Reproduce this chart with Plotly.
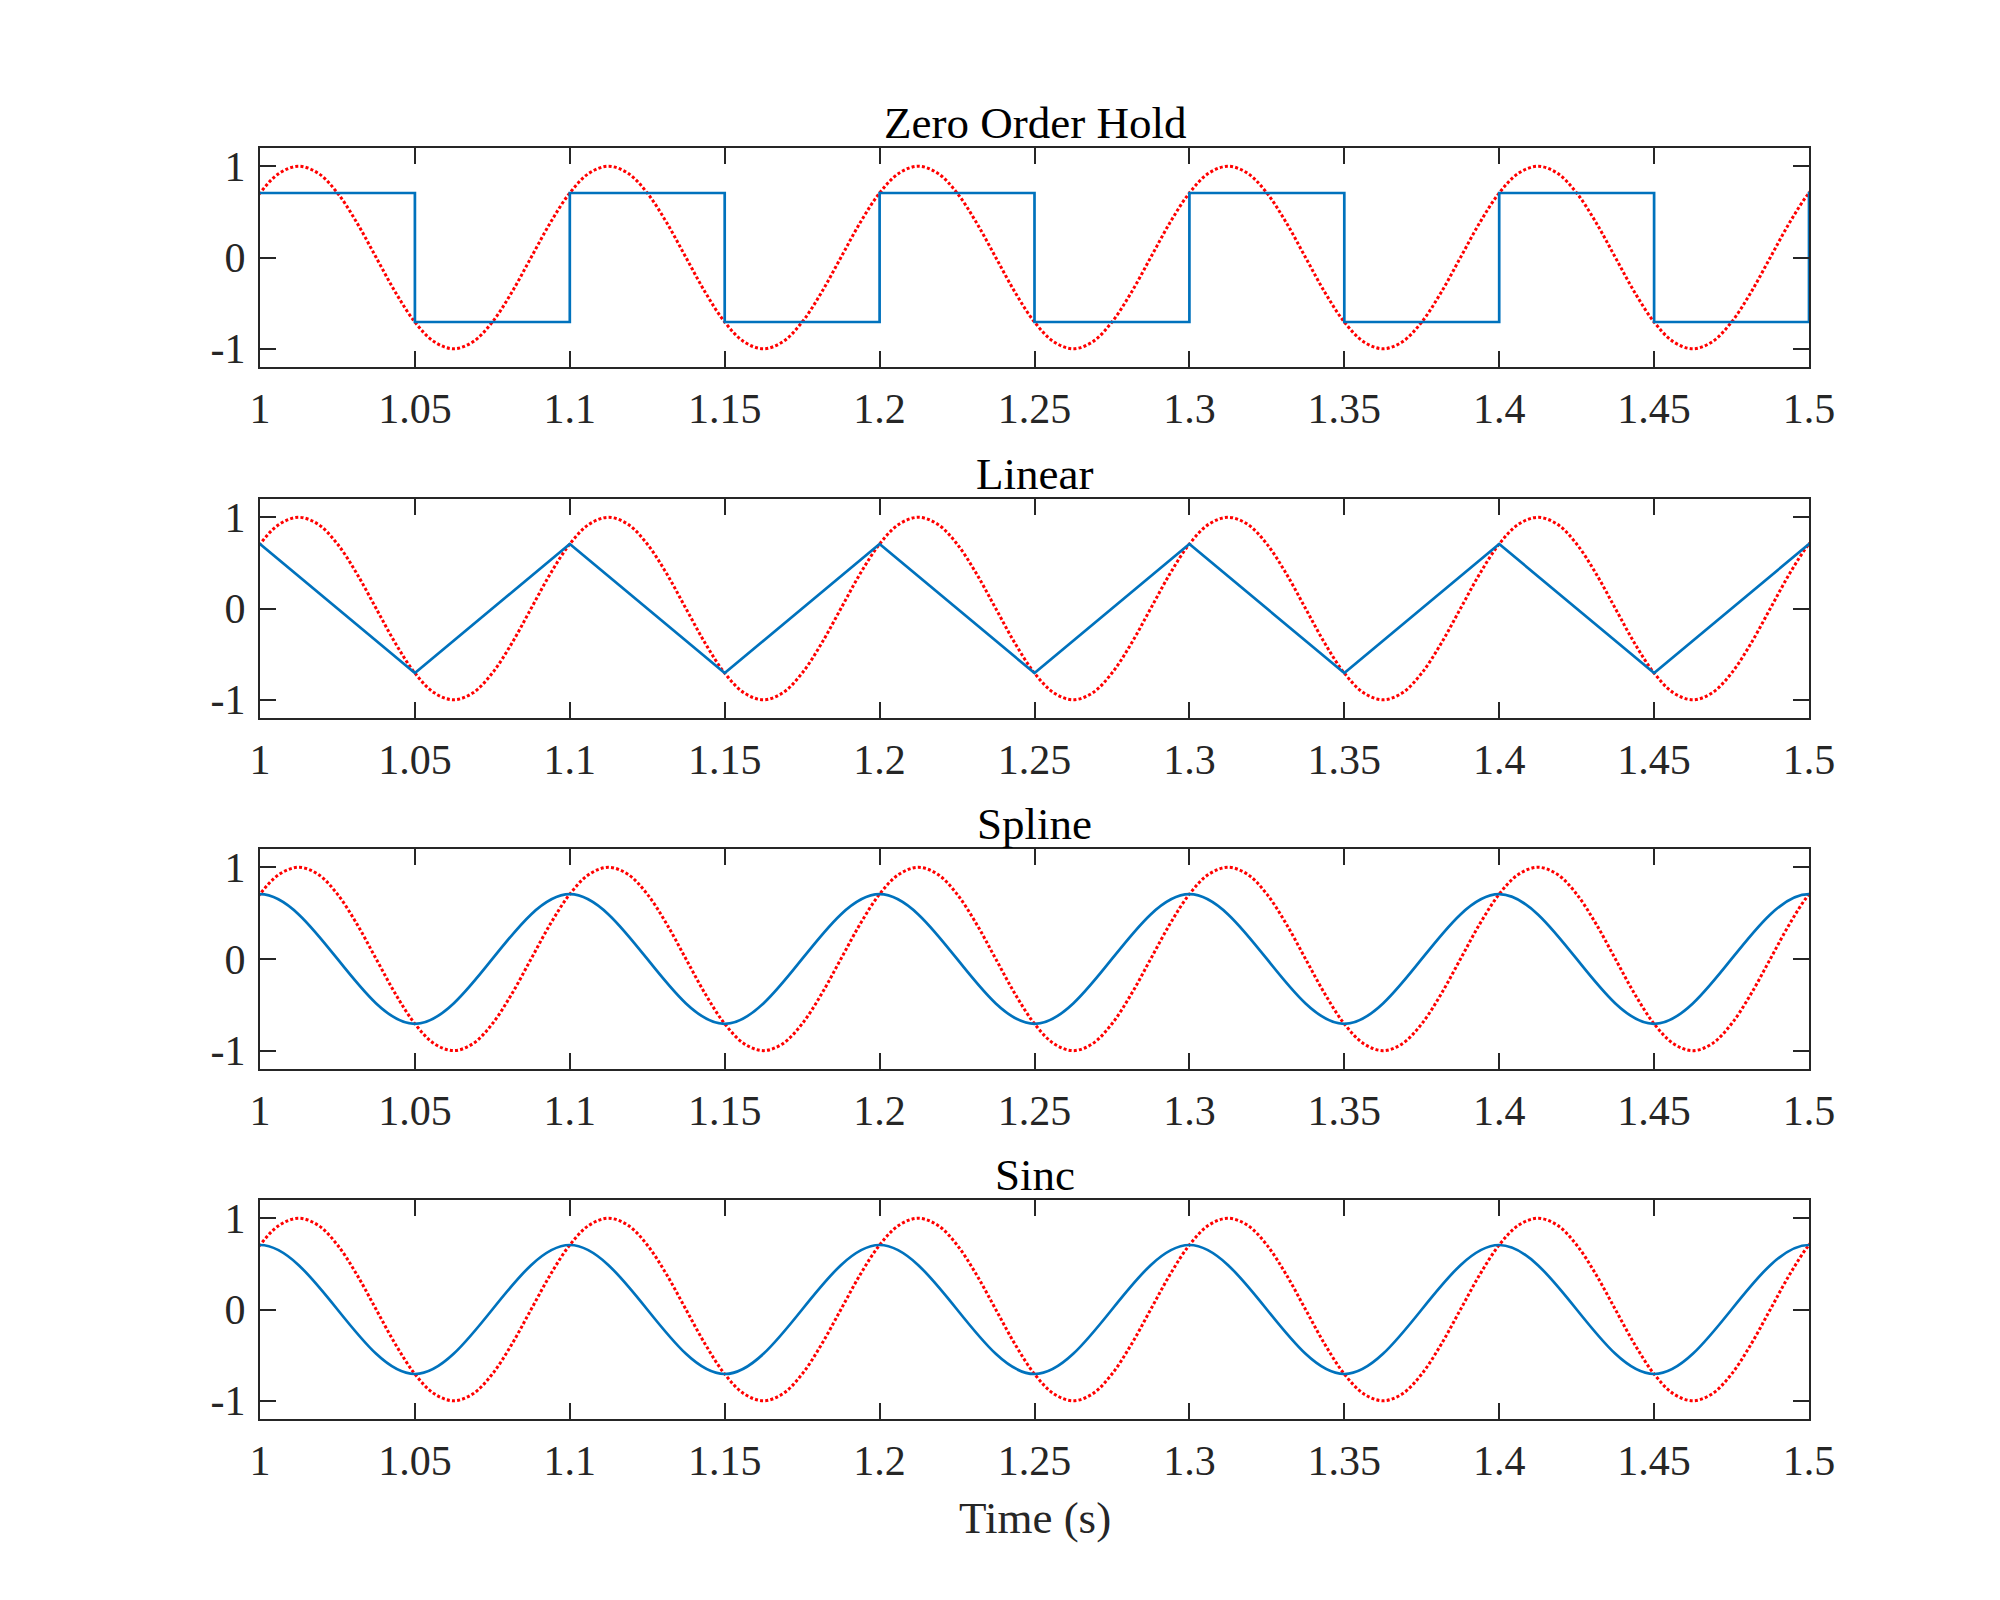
import plotly.graph_objects as go

# ---- data ----
panel_titles = ["Zero Order Hold", "Linear", "Spline", "Sinc"]
# sampled signal (20 Hz samples); the recording continues past the visible 1-1.5 s window
sample_t = [0.90, 0.95, 1.00, 1.05, 1.10, 1.15, 1.20, 1.25, 1.30, 1.35, 1.40, 1.45, 1.50, 1.55, 1.60]
sample_v = [0.707, -0.707, 0.707, -0.707, 0.707, -0.707, 0.707, -0.707, 0.707, -0.707,
            0.707, -0.707, 0.707, -0.707, 0.707]
# zero-order-hold output starts at the first visible sample (t = 1 s)
zoh_start = 2
# continuous reference signal (red dotted), read every 1/16 period (period 0.1 s)
ref_period_vals = [0.707, 0.924, 1.0, 0.924, 0.707, 0.383, 0.0, -0.383,
                   -0.707, -0.924, -1.0, -0.924, -0.707, -0.383, 0.0, 0.383]
ref_t = [0.9 + 0.00625 * k for k in range(113)]
ref_v = ref_period_vals * 7 + [0.707]
x_tickvals = [1, 1.05, 1.1, 1.15, 1.2, 1.25, 1.3, 1.35, 1.4, 1.45, 1.5]
x_ticktext = ["1", "1.05", "1.1", "1.15", "1.2", "1.25", "1.3", "1.35", "1.4", "1.45", "1.5"]
y_tickvals = [-1, 0, 1]
y_ticktext = ["-1", "0", "1"]
x_label = "Time (s)"

BLUE = "#0072BD"
RED = "#FF0000"
AX = "#262626"
FONT = "Liberation Serif, Times New Roman, serif"

domains = [[0.8277, 1.0], [0.5515, 0.7238], [0.2754, 0.4485], [0.0, 0.1723]]
shapes_blue = ["hv", "linear", "spline", "spline"]

fig = go.Figure()
layout = {}
for i in range(4):
    xa = "x" if i == 0 else f"x{i+1}"
    ya = "y" if i == 0 else f"y{i+1}"
    fig.add_trace(go.Scatter(x=ref_t, y=ref_v, mode="lines", xaxis=xa, yaxis=ya,
                             line=dict(color=RED, width=3, dash="3px,2.2px", shape="spline", smoothing=1.0),
                             showlegend=False, hoverinfo="skip"))
    st = sample_t[zoh_start:] if i == 0 else sample_t
    sv = sample_v[zoh_start:] if i == 0 else sample_v
    fig.add_trace(go.Scatter(x=st, y=sv, mode="lines", xaxis=xa, yaxis=ya,
                             line=dict(color=BLUE, width=2.7, shape=shapes_blue[i], smoothing=1.0),
                             showlegend=False, hoverinfo="skip"))
    xk = "xaxis" if i == 0 else f"xaxis{i+1}"
    yk = "yaxis" if i == 0 else f"yaxis{i+1}"
    layout[xk] = dict(domain=[0, 1], anchor=ya, range=[1, 1.5],
                      tickvals=x_tickvals, ticktext=x_ticktext,
                      ticks="inside", ticklen=16, tickwidth=2, tickcolor=AX,
                      showline=True, linewidth=2, linecolor=AX, mirror="ticks",
                      showgrid=False, zeroline=False, ticklabelstandoff=4,
                      tickfont=dict(family=FONT, size=42, color=AX))
    layout[yk] = dict(domain=domains[i], anchor=xa, range=[-1.2, 1.2],
                      tickvals=y_tickvals, ticktext=y_ticktext,
                      ticks="inside", ticklen=16, tickwidth=2, tickcolor=AX,
                      showline=True, linewidth=2, linecolor=AX, mirror="ticks",
                      showgrid=False, zeroline=False, ticklabelstandoff=4,
                      tickfont=dict(family=FONT, size=42, color=AX))

annotations = []
for i, t in enumerate(panel_titles):
    annotations.append(dict(text=t, x=0.5, xref="paper", y=domains[i][1], yref="paper",
                            xanchor="center", yanchor="bottom", showarrow=False, yshift=-2,
                            font=dict(family=FONT, size=45, color="#000000")))
# x-axis label under the bottom panel
annotations.append(dict(text=x_label, x=0.5, xref="paper", y=0, yref="paper",
                        xanchor="center", yanchor="top", showarrow=False, yshift=-72,
                        font=dict(family=FONT, size=45, color=AX)))

fig.update_layout(**layout)
fig.update_layout(width=2000, height=1600, margin=dict(l=260, r=191, t=148, b=181),
                  paper_bgcolor="white", plot_bgcolor="white", annotations=annotations)
fig.write_html("out.html")
